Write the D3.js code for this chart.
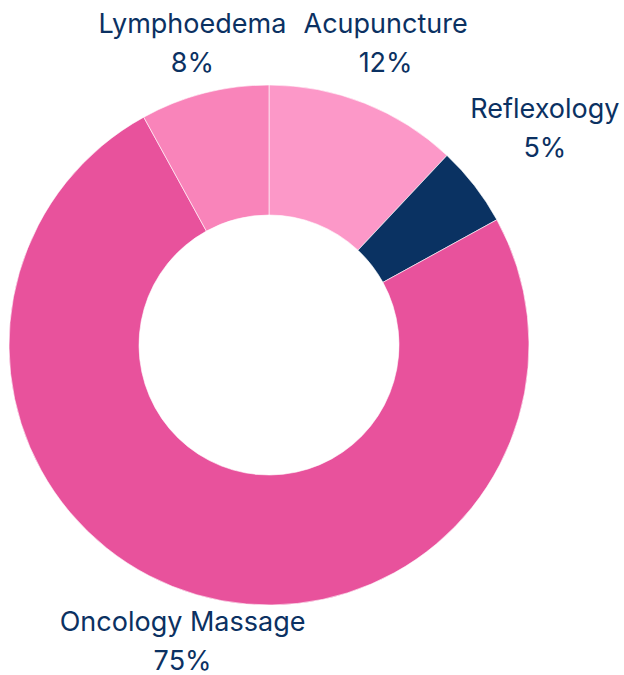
<!DOCTYPE html>
<html>
<head>
<meta charset="utf-8">
<script src="https://cdn.jsdelivr.net/npm/d3@7"></script>
<style>
  html, body { margin: 0; padding: 0; background: #fff; }
  svg { display: block; }
</style>
</head>
<body>
<svg id="chart" width="624" height="675"></svg>
<script>
const categories = ["Acupuncture", "Reflexology", "Oncology Massage", "Lymphoedema"];
const values = [12, 5, 75, 8];
const percentLabels = ["12%", "5%", "75%", "8%"];
const colors = ["#FC98C8", "#0A3262", "#E8529C", "#F984BA"];

const svg = d3.select("#chart");
const cx = 269, cy = 345;
const outerR = 260, innerR = 130;
// label placement: radius and small angular shift (degrees) from the slice mid-angle
const labelLayout = {
  "Acupuncture": { r: 333, shift: -1.1 },
  "Reflexology": { r: 357, shift: -1.6 },
  "Oncology Massage": { r: 299, shift: 0.6 },
  "Lymphoedema": { r: 321, shift: 0.6 }
};

const data = categories.map((c, i) => ({ cat: c, value: values[i], label: percentLabels[i], color: colors[i] }));

const pie = d3.pie().value(d => d.value).sort(null);
const arc = d3.arc().innerRadius(innerR).outerRadius(outerR);
const arcs = pie(data);

const g = svg.append("g").attr("transform", `translate(${cx},${cy})`);

g.selectAll("path.slice")
  .data(arcs)
  .join("path")
  .attr("class", "slice")
  .attr("d", arc)
  .attr("fill", d => d.data.color)
  .attr("stroke", "#ffffff")
  .attr("stroke-width", 0.6);

const labels = g.selectAll("text.lbl")
  .data(arcs)
  .join("text")
  .attr("class", "lbl")
  .attr("text-anchor", "middle")
  .attr("font-family", "Inter, 'Noto Sans', sans-serif")
  .attr("font-size", 27)
  .attr("fill", "#0B3162")
  .attr("transform", d => {
    const L = labelLayout[d.data.cat];
    const a = (d.startAngle + d.endAngle) / 2 + L.shift * Math.PI / 180;
    return `translate(${L.r * Math.sin(a)},${-L.r * Math.cos(a)})`;
  });

labels.append("tspan").attr("x", 0).attr("y", 0).text(d => d.data.cat);
labels.append("tspan").attr("x", 0).attr("y", 38.5).text(d => d.data.label);
</script>
</body>
</html>
